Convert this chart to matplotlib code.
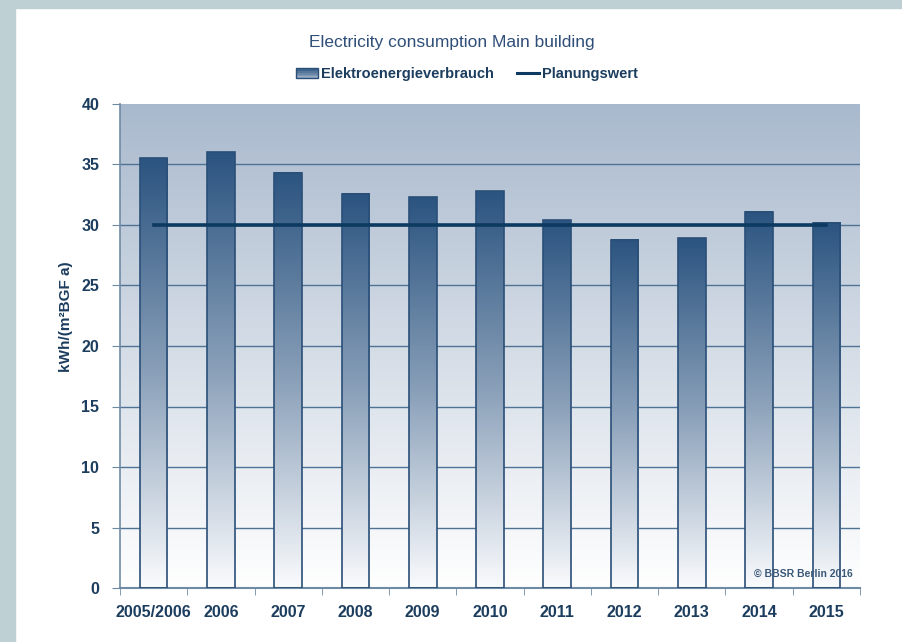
import numpy as np
import matplotlib
matplotlib.use('Agg')
import matplotlib.pyplot as plt
from matplotlib.colors import LinearSegmentedColormap
from matplotlib.patches import Rectangle
from matplotlib.lines import Line2D
from matplotlib.legend_handler import HandlerBase

years = ['2005/2006', '2006', '2007', '2008', '2009', '2010', '2011', '2012', '2013', '2014', '2015']
consumption = [35.5, 36.0, 34.3, 32.6, 32.3, 32.8, 30.4, 28.8, 28.9, 31.1, 30.2]
planning = 30
yticks = [0, 5, 10, 15, 20, 25, 30, 35, 40]

navy = '#1c3d5e'
narrow = ['Liberation Sans Narrow', 'Liberation Sans', 'DejaVu Sans']

bar_cmap = LinearSegmentedColormap.from_list('bar', ['#fafbfd', '#8aa0b9', '#2b5480'])
bg_cmap = LinearSegmentedColormap.from_list('bg', ['#ffffff', '#a9b9cd'])

fig = plt.figure(figsize=(9.03, 6.42), dpi=100)
fig.patch.set_facecolor('white')
# light border band top and left
fig.patches.append(Rectangle((0, 1 - 8 / 642), 1, 8 / 642, transform=fig.transFigure,
                             color='#bfd0d5', zorder=0))
fig.patches.append(Rectangle((0, 0), 15 / 903, 1, transform=fig.transFigure,
                             color='#bfd0d5', zorder=0))

ax = fig.add_axes([120 / 903, 54 / 642, 740 / 903, 484 / 642])
x = np.arange(len(years))
ax.set_xlim(-0.5, len(years) - 0.5)
ax.set_ylim(0, 40)

grad = np.linspace(0, 1, 256).reshape(-1, 1)
ax.imshow(grad, extent=[-0.5, len(years) - 0.5, 0, 40], origin='lower', aspect='auto',
          cmap=bg_cmap, zorder=0)

for yv in yticks[1:-1]:
    ax.axhline(yv, color='#4f7394', lw=1, zorder=1)

w = 0.41
bars = ax.bar(x, consumption, width=w, facecolor='none', edgecolor='#2a4f78', lw=1.2, zorder=3)
for xi, v in zip(x, consumption):
    ax.imshow(grad, extent=[xi - w / 2, xi + w / 2, 0, v], origin='lower', aspect='auto',
              cmap=bar_cmap, zorder=2)

ax.plot([x[0], x[-1]], [planning, planning], color='#0d3a60', lw=2.6, zorder=4)

ax.set_yticks(yticks)
ax.set_xticks(x)
ax.set_xticklabels(years)
ax.set_xticks(np.arange(-0.5, len(years) + 0.5, 1), minor=True)
ax.tick_params(axis='x', which='major', length=0, pad=12)
ax.tick_params(axis='x', which='minor', length=5, color='#6f8aa3', direction='out')
ax.tick_params(axis='y', length=6, color='#6f8aa3', pad=9)
for lab in ax.get_xticklabels() + ax.get_yticklabels():
    lab.set_family(narrow)
    lab.set_fontsize(11.5)
    lab.set_fontweight('bold')
    lab.set_color(navy)

for s in ['top', 'right']:
    ax.spines[s].set_visible(False)
ax.spines['left'].set_color('#6f8aa3')
ax.spines['bottom'].set_color('#6f8aa3')
ax.spines['left'].set_linewidth(1.2)
ax.spines['bottom'].set_linewidth(1.5)

ax.set_ylabel('kWh/(m²BGF a)', family=narrow, fontsize=11, fontweight='bold', color=navy)
ax.yaxis.set_label_coords(-0.064, 0.56)

fig.text(0.5, 1 - 43 / 642, 'Electricity consumption Main building', ha='center', va='center',
         fontsize=12.5, color='#2f4f78', family=['Liberation Sans', 'DejaVu Sans'])

ax.text(0.99, 0.03, '© BBSR Berlin 2016', transform=ax.transAxes, ha='right', va='center',
        fontsize=7.5, color='#3a5878', fontweight='bold', zorder=5,
        family=['Liberation Sans', 'DejaVu Sans'])


class GradientHandler(HandlerBase):
    def create_artists(self, legend, orig_handle, xdescent, ydescent, width, height, fontsize, trans):
        arts = []
        cols = bar_cmap(np.linspace(1, 0.45, 6))
        for i, c in enumerate(cols):
            r = Rectangle((-xdescent, -ydescent + height * (5 - i) / 6), width, height / 6,
                          facecolor=c, edgecolor='none', transform=trans)
            arts.append(r)
        arts.append(Rectangle((-xdescent, -ydescent), width, height, facecolor='none',
                              edgecolor='#2a4f78', lw=1, transform=trans))
        return arts


bar_handle = Rectangle((0, 0), 1, 1)
line_handle = Line2D([], [], color='#0d3a60', lw=2.2)
leg = fig.legend([bar_handle, line_handle], ['Elektroenergieverbrauch', 'Planungswert'],
                 loc='center', bbox_to_anchor=(467 / 903, 1 - 74 / 642), ncol=2, frameon=False,
                 handler_map={Rectangle: GradientHandler()}, handlelength=1.5, handleheight=0.7,
                 handletextpad=0.2, columnspacing=1.6,
                 prop={'family': narrow, 'size': 10.5, 'weight': 'bold'})
for t in leg.get_texts():
    t.set_color(navy)

fig.savefig('out.png', dpi=100)
